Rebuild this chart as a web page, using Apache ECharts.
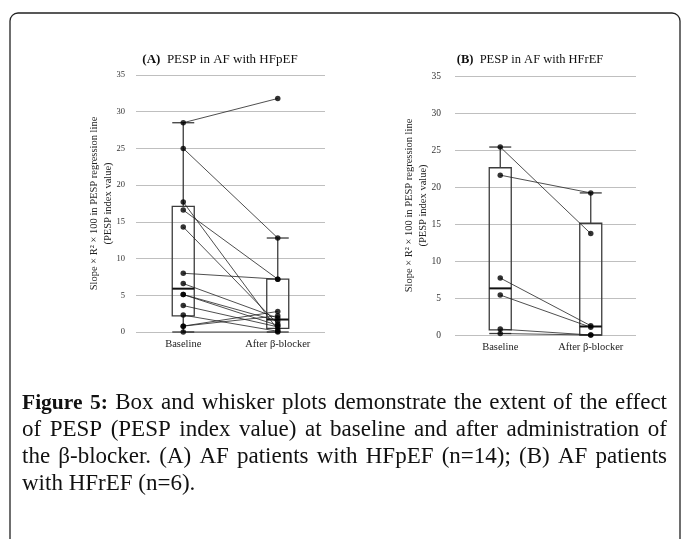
<!DOCTYPE html>
<html>
<head>
<meta charset="utf-8">
<title>PESP in AF - box and whisker plots</title>
<script src="https://cdn.jsdelivr.net/npm/echarts@6.0.0/dist/echarts.min.js"></script>
<style>
  html, body { margin: 0; padding: 0; background: #fff; }
  #main { width: 683px; height: 539px; }
</style>
</head>
<body>
<div id="main"></div>
<script>
var categories = ['Baseline', 'After β-blocker'];

// (A) HFpEF, n=14, paired values (baseline[i] -> after[i])
var baselineA = [28.5, 25.0, 17.7, 16.6, 14.3, 8.0, 6.6, 5.1, 5.1, 3.6, 2.3, 0.8, 0.8, 0];
var afterA    = [31.8, 12.8, 0.3, 7.2, 1.1, 7.2, 1.9, 1.5, 0.9, 0.7, 0.1, 2.8, 2.2, 0];
// box stats: [min, Q1, median, Q3, max]
var boxA = [[0, 2.2, 5.9, 17.1, 28.5], [0, 0.5, 1.7, 7.2, 12.8]];

// (B) HFrEF, n=6
var baselineB = [25.4, 21.6, 7.7, 5.4, 0.8, 0.2];
var afterB    = [13.7, 19.2, 1.25, 1.05, 0, 0];
var boxB = [[0.2, 0.7, 6.3, 22.6, 25.4], [0, 0, 1.15, 15.1, 19.2]];

var titles = ['(A)', 'PESP in AF with HFpEF', '(B)', 'PESP in AF with HFrEF'];
var yName = 'Slope × R² × 100 in PESP regression line\n(PESP index value)';

var captionLines = [
  'Figure 5: Box and whisker plots demonstrate the extent of the effect',
  'of PESP (PESP index value) at baseline and after administration of',
  'the β-blocker. (A) AF patients with HFpEF (n=14); (B) AF patients',
  'with HFrEF (n=6).'
];

var serif = '"Liberation Serif", "DejaVu Serif", serif';

function renderBox(params, api) {
  var x = api.value(0);
  var pMin = api.coord([x, api.value(1)]);
  var pQ1 = api.coord([x, api.value(2)]);
  var pMed = api.coord([x, api.value(3)]);
  var pQ3 = api.coord([x, api.value(4)]);
  var pMax = api.coord([x, api.value(5)]);
  var cx = pMin[0], hw = 11;
  var st = { stroke: '#3c3c3c', lineWidth: 1.3 };
  return {
    type: 'group',
    children: [
      { type: 'line', shape: { x1: cx, y1: pMax[1], x2: cx, y2: pQ3[1] }, style: st },
      { type: 'line', shape: { x1: cx, y1: pQ1[1], x2: cx, y2: pMin[1] }, style: st },
      { type: 'line', shape: { x1: cx - hw, y1: pMax[1], x2: cx + hw, y2: pMax[1] }, style: st },
      { type: 'line', shape: { x1: cx - hw, y1: pMin[1], x2: cx + hw, y2: pMin[1] }, style: st },
      { type: 'rect', shape: { x: cx - hw, y: pQ3[1], width: hw * 2, height: pQ1[1] - pQ3[1] },
        style: { stroke: '#3c3c3c', lineWidth: 1.3, fill: 'rgba(0,0,0,0)' } },
      { type: 'line', shape: { x1: cx - hw, y1: pMed[1], x2: cx + hw, y2: pMed[1] },
        style: { stroke: '#111', lineWidth: 2 } }
    ]
  };
}

function renderPair(params, api) {
  var p1 = api.coord([0, api.value(1)]);
  var p2 = api.coord([1, api.value(2)]);
  return { type: 'line', shape: { x1: p1[0], y1: p1[1], x2: p2[0], y2: p2[1] },
    style: { stroke: '#222', lineWidth: 0.8 } };
}

function panelSeries(idx, base, after, box) {
  return [
    { type: 'custom', xAxisIndex: idx, yAxisIndex: idx, z: 2, renderItem: renderBox,
      encode: { x: 0, y: [1, 2, 3, 4, 5] },
      data: box.map(function (s, i) { return [i].concat(s); }) },
    { type: 'custom', xAxisIndex: idx, yAxisIndex: idx, z: 3, renderItem: renderPair,
      encode: { x: 0, y: 1 },
      data: base.map(function (b, i) { return [0, b, after[i]]; }) },
    { type: 'scatter', xAxisIndex: idx, yAxisIndex: idx, z: 4, symbolSize: 5.5,
      itemStyle: { color: '#000' },
      data: base.map(function (v) { return [0, v]; })
        .concat(after.map(function (v) { return [1, v]; })) }
  ];
}

function xAxisFor(idx) {
  return {
    gridIndex: idx, type: 'category', data: categories,
    axisLine: { show: false }, axisTick: { show: false },
    axisLabel: { fontFamily: serif, fontSize: 10.5, color: '#222', margin: 7 }
  };
}

function yAxisFor(idx, labelSize, labelMargin, nameGap) {
  return {
    gridIndex: idx, type: 'value', min: 0, max: 35, interval: 5,
    axisLine: { show: false }, axisTick: { show: false },
    splitLine: { lineStyle: { color: '#bfbfbf', width: 1.2 } },
    axisLabel: { fontFamily: serif, fontSize: labelSize, color: '#333', margin: labelMargin },
    name: yName, nameLocation: 'middle', nameGap: nameGap, nameMoveOverlap: false,
    nameTextStyle: { fontFamily: serif, fontSize: 10.5, lineHeight: 14, color: '#222' }
  };
}

var measureCtx = document.createElement('canvas').getContext('2d');
function captionGraphics() {
  var out = [];
  var size = 23, boldSize = 21.5, x0 = 22, x1 = 667, y0 = 403, lh = 27;
  captionLines.forEach(function (line, li) {
    var words = line.split(' ');
    var items = words.map(function (w, wi) {
      var bold = li === 0 && wi < 2;
      var fs = bold ? boldSize : size;
      measureCtx.font = (bold ? 'bold ' : '') + fs + 'px "Liberation Serif"';
      return { text: w, bold: bold, fs: fs, width: measureCtx.measureText(w).width };
    });
    measureCtx.font = size + 'px "Liberation Serif"';
    var space = measureCtx.measureText(' ').width;
    var total = items.reduce(function (s, it) { return s + it.width; }, 0);
    var justify = li < captionLines.length - 1;
    var gap = justify ? (x1 - x0 - total) / (items.length - 1) : space;
    var x = x0;
    items.forEach(function (it) {
      out.push({
        type: 'text', x: x, y: y0 + li * lh, silent: true,
        style: { text: it.text, fontFamily: serif, fontSize: it.fs,
          fontWeight: it.bold ? 'bold' : 'normal', fill: '#111', verticalAlign: 'middle' }
      });
      x += it.width + gap;
    });
  });
  return out;
}

var graphics = [
  { type: 'rect', shape: { x: 10, y: 13, width: 670, height: 560, r: 8 },
    style: { fill: 'rgba(0,0,0,0)', stroke: '#222', lineWidth: 1.3 }, silent: true },
  { type: 'text', x: 220, y: 60, silent: true,
    style: { text: '{b|' + titles[0] + '}  ' + titles[1], align: 'center', verticalAlign: 'middle',
      fontFamily: serif, fontSize: 13, fill: '#111',
      rich: { b: { fontFamily: serif, fontSize: 13, fontWeight: 'bold', fill: '#111' } } } },
  { type: 'text', x: 530, y: 60, silent: true,
    style: { text: '{b|' + titles[2] + '}  ' + titles[3], align: 'center', verticalAlign: 'middle',
      fontFamily: serif, fontSize: 12.5, fill: '#111',
      rich: { b: { fontFamily: serif, fontSize: 12.5, fontWeight: 'bold', fill: '#111' } } } }
].concat(captionGraphics());

var myChart = echarts.init(document.getElementById('main'));
myChart.setOption({
  animation: false,
  backgroundColor: '#fff',
  grid: [
    { left: 136, top: 75, width: 189, height: 257 },
    { left: 455, top: 76, width: 181, height: 259 }
  ],
  xAxis: [xAxisFor(0), xAxisFor(1)],
  yAxis: [yAxisFor(0, 8.5, 11, 21), yAxisFor(1, 9.5, 14, 25)],
  graphic: graphics,
  series: panelSeries(0, baselineA, afterA, boxA).concat(panelSeries(1, baselineB, afterB, boxB))
});
</script>
</body>
</html>
